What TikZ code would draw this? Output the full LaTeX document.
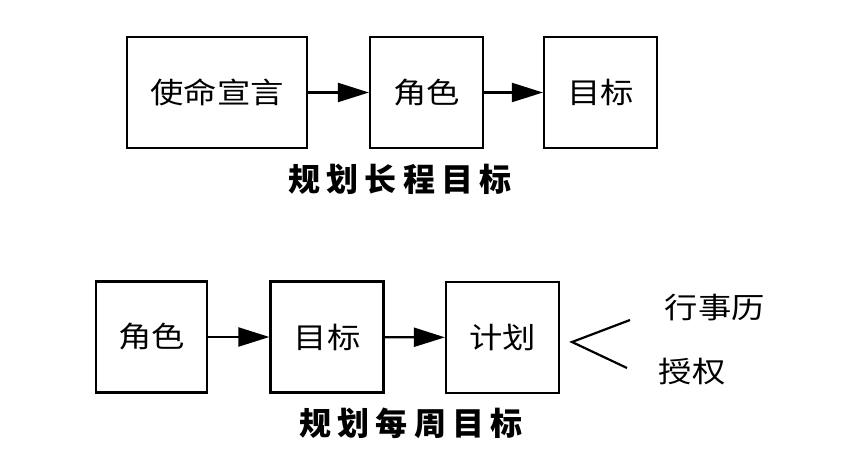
\documentclass[tikz,border=0pt]{standalone}
\usepackage{fontspec}
\setmainfont{Noto Sans CJK SC}[BoldFont={* Bold}]
\newfontfamily\boxfont{Noto Sans CJK SC}[FakeStretch=1.15]
\newfontfamily\capfont{Noto Sans CJK SC Black}[LetterSpace=20]
\usepackage{tikz}
\usetikzlibrary{arrows.meta, positioning}

\begin{document}
\begin{tikzpicture}[x=1pt,y=-1pt]
        \useasboundingbox (0,0) rectangle (850,470);
        \begin{scope}[every node/.style={draw,line width=2.2pt,rectangle,inner sep=0pt,
            minimum width=113pt,minimum height=111pt,font=\boxfont\fontsize{29}{30}\selectfont}]
          % long-range goals
          \node[minimum width=180pt] (mission) at (217,92.5) {使命宣言};
          \node (role) at (426.5,92.5) {角色};
          \node (goal) at (600.5,92.5) {目标};
          % weekly goals
          \node[minimum width=111pt] (role2) at (151.5,337) {角色};
          \node (goal2) at (327,337) {目标};
          \node (plan) at (502.5,337.5) {计划};
        \end{scope}
        \begin{scope}[every edge/.style={draw=black,line width=2.2pt,-{Triangle[length=31pt,width=19pt]}}]
          \path (mission) edge (role);
          \path (role) edge (goal);
          \path (role2) edge (goal2);
          \path (goal2) edge (plan);
        \end{scope}
        \node[font=\capfont\fontsize{32}{34}\selectfont] (cap1) at (400,179) {规划长程目标};
        \node[font=\capfont\fontsize{32}{34}\selectfont] (cap2) at (411,423) {规划每周目标};
        \node[font=\boxfont\fontsize{29}{30}\selectfont] (cal) at (715,308) {行事历};
        \node[font=\boxfont\fontsize{29}{30}\selectfont] (deleg) at (692,372) {授权};
        \coordinate (up) at (630,320);
        \coordinate (tip) at (572,342);
        \coordinate (down) at (627,368);
        \draw[line width=2.2pt] (up) -- (tip) -- (down);
      \end{tikzpicture}
\end{document}
